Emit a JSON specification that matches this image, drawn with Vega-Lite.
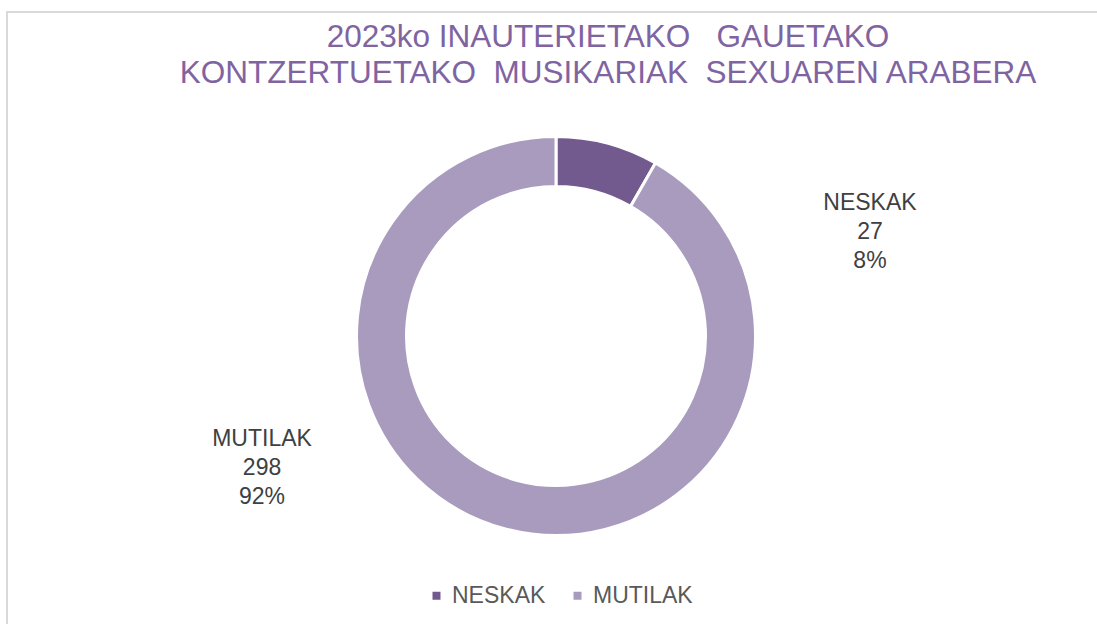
{
  "$schema": "https://vega.github.io/schema/vega-lite/v6.json",
  "width": 1098,
  "height": 648,
  "autosize": {"type": "none"},
  "padding": {"left": 7, "top": 12, "right": 0, "bottom": 0},
  "background": "white",
  "view": {"stroke": "#D9D9D9", "strokeWidth": 2},
  "config": {
    "font": "Liberation Sans"
  },
  "title": {
    "text": ["2023ko INAUTERIETAKO\u00a0\u00a0 GAUETAKO", "KONTZERTUETAKO\u00a0 MUSIKARIAK\u00a0 SEXUAREN ARABERA"],
    "color": "#8064A2",
    "fontSize": 31.5,
    "fontWeight": "normal",
    "font": "Liberation Sans",
    "lineHeight": 36,
    "anchor": "middle",
    "frame": "group",
    "baseline": "top",
    "offset": 0,
    "dx": 52,
    "dy": 77
  },
  "data": {
    "values": [
      {"sexua": "NESKAK", "kopurua": 27},
      {"sexua": "MUTILAK", "kopurua": 298}
    ]
  },
  "transform": [
    {"joinaggregate": [{"op": "sum", "field": "kopurua", "as": "guztira"}]},
    {"calculate": "round(datum.kopurua / datum.guztira * 100) + '%'", "as": "ehunekoa"},
    {"calculate": "[datum.sexua, '' + datum.kopurua, datum.ehunekoa]", "as": "etiketa"}
  ],
  "encoding": {
    "theta": {"field": "kopurua", "type": "quantitative", "stack": true},
    "order": {"field": "kopurua", "type": "quantitative", "sort": "ascending"}
  },
  "layer": [
    {
      "mark": {"type": "arc", "outerRadius": 199.5, "innerRadius": 149.5, "stroke": "white", "strokeWidth": 3},
      "encoding": {
        "color": {
          "field": "sexua",
          "type": "nominal",
          "scale": {"domain": ["NESKAK", "MUTILAK"], "range": ["#725A8F", "#A99BBE"]},
          "legend": {
            "title": null,
            "orient": "none",
            "direction": "horizontal",
            "legendX": 418,
            "legendY": 572,
            "symbolType": "square",
            "symbolSize": 64,
            "labelFontSize": 23,
            "labelFont": "Liberation Sans",
            "labelColor": "#595959",
            "labelOffset": 4,
            "columnPadding": 20,
            "symbolStrokeWidth": 0
          }
        }
      }
    },
    {
      "mark": {
        "type": "text",
        "radius": 326,
        "thetaOffset": 0.94,
        "dx": 10,
        "dy": -15,
        "fontSize": 23,
        "lineHeight": 29,
        "color": "#404040",
        "align": "center",
        "baseline": "middle"
      },
      "encoding": {
        "text": {"field": "etiketa"}
      }
    }
  ]
}
